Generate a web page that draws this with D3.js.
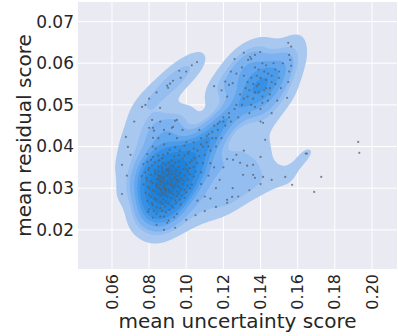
<!DOCTYPE html>
<html><head><meta charset="utf-8">
<script src="https://cdn.jsdelivr.net/npm/d3@7"></script>
<style>body{margin:0;background:#fff}</style>
</head><body>
<svg id="c" width="398" height="336"></svg>
<script>
// ---- data: [mean uncertainty score, mean residual score] ----
const coreScores = [
[0.082,0.0400],[0.088,0.0405],[0.094,0.0398],[0.099,0.0402],[0.104,0.0395],
[0.079,0.0382],[0.085,0.0378],[0.090,0.0384],[0.096,0.0379],[0.101,0.0383],[0.107,0.0377],
[0.081,0.0368],[0.087,0.0372],[0.092,0.0366],[0.098,0.0371],[0.103,0.0367],
[0.077,0.0358],[0.083,0.0362],[0.089,0.0356],[0.094,0.0361],[0.100,0.0357],[0.106,0.0360],
[0.080,0.0349],[0.085,0.0352],[0.091,0.0347],[0.096,0.0351],[0.102,0.0348],
[0.078,0.0338],[0.083,0.0342],[0.087,0.0339],[0.092,0.0341],[0.097,0.0337],[0.101,0.0340],[0.108,0.0338],
[0.076,0.0329],[0.081,0.0332],[0.086,0.0328],[0.090,0.0331],[0.094,0.0327],[0.099,0.0330],[0.104,0.0328],
[0.079,0.0319],[0.084,0.0322],[0.088,0.0318],[0.092,0.0321],[0.096,0.0317],[0.101,0.0320],
[0.077,0.0309],[0.082,0.0312],[0.086,0.0308],[0.090,0.0311],[0.094,0.0307],[0.098,0.0310],[0.103,0.0308],
[0.080,0.0299],[0.085,0.0302],[0.089,0.0298],[0.093,0.0301],[0.097,0.0297],[0.102,0.0300],
[0.078,0.0289],[0.083,0.0292],[0.087,0.0288],[0.091,0.0291],[0.096,0.0287],[0.100,0.0290],
[0.081,0.0279],[0.086,0.0282],[0.090,0.0278],[0.095,0.0281],[0.099,0.0277],
[0.079,0.0269],[0.084,0.0272],[0.089,0.0268],[0.094,0.0271],
[0.082,0.0259],[0.087,0.0262],[0.092,0.0258],[0.097,0.0261],
[0.080,0.0249],[0.086,0.0252],[0.091,0.0248],
[0.0794,0.0243],[0.084,0.0239],[0.089,0.0242],[0.095,0.0238],
[0.082,0.0229],[0.088,0.0232],[0.0897,0.0217],[0.100,0.0224],
[0.088,0.0335],[0.091,0.0325],[0.086,0.0315],[0.093,0.0305],[0.089,0.0295],[0.090,0.0345],
[0.087,0.0325],[0.094,0.0335],[0.084,0.0305],[0.092,0.0315],[0.089,0.0310],[0.091,0.0335],
[0.085,0.0330],[0.095,0.0320],[0.088,0.0300],[0.092,0.0290],
[0.0835,0.0395],[0.0910,0.0392],[0.0965,0.0390],[0.1015,0.0388],
[0.0820,0.0375],[0.0875,0.0380],[0.0935,0.0376],[0.0990,0.0378],[0.1045,0.0372],
[0.0790,0.0363],[0.0855,0.0366],[0.0905,0.0361],[0.0960,0.0364],[0.1020,0.0362],
[0.0815,0.0355],[0.0870,0.0350],[0.0930,0.0354],[0.0985,0.0346],[0.1040,0.0351],
[0.0795,0.0344],[0.0850,0.0340],[0.0895,0.0344],[0.0945,0.0342],[0.1000,0.0345],
[0.0785,0.0325],[0.0835,0.0335],[0.0880,0.0326],[0.0925,0.0333],[0.0975,0.0324],[0.1020,0.0333],
[0.0810,0.0316],[0.0860,0.0320],[0.0900,0.0316],[0.0945,0.0314],[0.0985,0.0318],
[0.0795,0.0304],[0.0840,0.0310],[0.0880,0.0306],[0.0920,0.0309],[0.0960,0.0303],[0.1005,0.0306],
[0.0820,0.0295],[0.0865,0.0294],[0.0905,0.0296],[0.0950,0.0292],[0.0990,0.0296],
[0.0800,0.0284],[0.0845,0.0286],[0.0885,0.0283],[0.0930,0.0285],[0.0975,0.0283],
[0.0830,0.0275],[0.0875,0.0273],[0.0920,0.0276],[0.0965,0.0273],
[0.0815,0.0264],[0.0860,0.0267],[0.0905,0.0263],[0.0945,0.0265],
[0.0840,0.0254],[0.0885,0.0256],[0.0930,0.0253],
[0.0825,0.0245],[0.0870,0.0246],[0.0860,0.0232],[0.0935,0.0230],
[0.0870,0.0345],[0.0895,0.0330],[0.0915,0.0310],[0.0875,0.0312],[0.0905,0.0340],[0.0860,0.0298],
[0.0935,0.0322],[0.0885,0.0290],[0.0850,0.0322],[0.0915,0.0355],[0.0875,0.0360],[0.0955,0.0330],
[0.0940,0.0205],[0.0840,0.0212],[0.0880,0.0200],[0.0905,0.0222]
];
const bridgeScores = [
[0.106,0.039],[0.109,0.040],[0.108,0.042],[0.111,0.041],[0.112,0.043],[0.114,0.042],
[0.115,0.045],[0.117,0.044],[0.118,0.046],[0.120,0.047],[0.121,0.045],[0.123,0.048],
[0.124,0.046],[0.126,0.049],[0.110,0.038],[0.113,0.039],[0.116,0.040],[0.104,0.041],
[0.107,0.044],[0.119,0.042],[0.085,0.042],[0.088,0.044],[0.091,0.043],[0.095,0.042],
[0.098,0.044],[0.086,0.046],[0.100,0.041],
[0.108,0.0405],[0.111,0.0425],[0.114,0.0435],[0.117,0.0455],[0.120,0.0460],[0.123,0.0470],
[0.112,0.0400],[0.116,0.0420]
];
const upperScores = [
[0.130,0.050],[0.133,0.052],[0.135,0.050],[0.137,0.053],[0.139,0.055],[0.141,0.052],
[0.143,0.056],[0.145,0.054],[0.138,0.057],[0.136,0.055],[0.142,0.058],[0.146,0.057],
[0.148,0.055],[0.144,0.051],[0.140,0.049],[0.134,0.048],[0.132,0.054],[0.137,0.059],
[0.141,0.060],[0.147,0.060],[0.150,0.058],[0.151,0.054],[0.149,0.051],[0.146,0.048],
[0.140,0.046],[0.128,0.047],[0.131,0.057],[0.135,0.061],[0.139,0.053],[0.143,0.054],
[0.1549,0.0649],[0.1565,0.0640],[0.1554,0.0620],[0.1560,0.0608],[0.1565,0.0594],
[0.1554,0.0580],[0.1549,0.0555],[0.1543,0.0517],[0.1414,0.0457],[0.1425,0.0416],
[0.1344,0.0615],[0.1370,0.0620],[0.1398,0.0627],
[0.131,0.0515],[0.134,0.0535],[0.136,0.0515],[0.138,0.0545],[0.140,0.0565],[0.142,0.0535],
[0.144,0.0575],[0.146,0.0555],[0.139,0.0585],[0.135,0.0565],[0.143,0.0595],[0.148,0.0585],
[0.150,0.0565],[0.145,0.0525],[0.141,0.0505],[0.137,0.0495],[0.133,0.0555],[0.152,0.0600],
[0.127,0.0500],[0.129,0.0525],
[0.121,0.0556],[0.123,0.0548],[0.125,0.0552],[0.127,0.0575],[0.130,0.0590],
[0.124,0.0580],[0.115,0.0545],[0.119,0.0535],[0.122,0.0520],
[0.126,0.0610],[0.131,0.0625],[0.1333,0.0608]
];
const hookScores = [
[0.0675,0.0423],[0.0686,0.0399],[0.0654,0.0286],[0.0654,0.0356],[0.0762,0.0495],
[0.0800,0.0515],[0.0859,0.0493],[0.0816,0.0464],[0.0821,0.0445],[0.0800,0.0445],
[0.0826,0.0438],[0.0940,0.0462],[0.0929,0.0447],[0.0821,0.0421],[0.0962,0.0582],
[0.0929,0.0558],[0.0913,0.0551],[0.0897,0.0546],[0.0902,0.0541],[0.1058,0.0603],
[0.0923,0.0445],[0.0950,0.0464],
[0.100,0.0580],[0.097,0.0565],[0.084,0.0530],[0.078,0.0500],[0.072,0.0460],[0.103,0.0595],
[0.070,0.0380],[0.068,0.0330]
];
const tailScores = [
[0.1252,0.0368],[0.1290,0.0361],[0.1328,0.0354],[0.1360,0.0356],[0.1306,0.0332],
[0.1370,0.0325],[0.1533,0.0327],[0.1570,0.0308],[0.1360,0.0332],[0.1414,0.0327],
[0.108,0.031],[0.112,0.033],[0.110,0.028],[0.115,0.035],[0.118,0.032],[0.113,0.036],
[0.120,0.035],[0.106,0.027],[0.116,0.030],[0.122,0.037],[0.105,0.034],[0.109,0.036],
[0.127,0.038],[0.131,0.039],[0.140,0.0375],
[0.110,0.0245],[0.116,0.0255],[0.122,0.0265],[0.128,0.0280],[0.134,0.0295],[0.140,0.0310],
[0.146,0.0320],[0.105,0.0235],[0.113,0.0275],[0.125,0.0300],[0.1220,0.0272],[0.1247,0.0279]
];
const outlierScores = [
[0.1643,0.0383],[0.1650,0.0383],[0.1926,0.0411],[0.1932,0.0385],[0.1727,0.0327],[0.1689,0.0291]
];
const xTicks = [0.06,0.08,0.10,0.12,0.14,0.16,0.18,0.20];
const yTicks = [0.02,0.03,0.04,0.05,0.06,0.07];
const xLimits = [0.0417, 0.2135];
const yLimits = [0.0106, 0.0747];
const isoProps = d3.range(10).map(i => 0.05 + i * 0.95 / 9);
const bandColors = ["#a9c8f0","#94bdf0","#7cb2ef","#62a6ed","#4a9bea","#3590e6","#2788e0","#1f82da","#1a7dd4"];

// ---- layout ----
const svg = d3.select("#c");
const L = 78, R = 397, T = 2, B = 269;
const x = d3.scaleLinear().domain(xLimits).range([L, R]);
const y = d3.scaleLinear().domain(yLimits).range([B, T]);
const font = "DejaVu Sans";
const ink = "#262626";

svg.append("rect").attr("x", L).attr("y", T).attr("width", R - L).attr("height", B - T).attr("fill", "#eaeaf2");
const grid = svg.append("g").attr("stroke", "#fff").attr("stroke-width", 1);
grid.selectAll("line.v").data(xTicks).join("line").attr("class","v")
  .attr("x1", d => x(d)).attr("x2", d => x(d)).attr("y1", T).attr("y2", B);
grid.selectAll("line.h").data(yTicks).join("line").attr("class","h")
  .attr("y1", d => y(d)).attr("y2", d => y(d)).attr("x1", L).attr("x2", R);

// ---- KDE (scipy gaussian_kde style, Scott factor) ----
const pts = [].concat(coreScores, bridgeScores, upperScores, hookScores, tailScores, outlierScores);
const n = pts.length;
const mx = d3.mean(pts, d => d[0]), my = d3.mean(pts, d => d[1]);
let sxx = 0, syy = 0, sxy = 0;
pts.forEach(([a, b]) => { sxx += (a - mx) ** 2; syy += (b - my) ** 2; sxy += (a - mx) * (b - my); });
sxx /= n - 1; syy /= n - 1; sxy /= n - 1;
const bwAdjust = 0.74;
const fac = Math.pow(n, -1 / 6) * bwAdjust;
const cxx = sxx * fac * fac, cyy = syy * fac * fac, cxy = sxy * fac * fac;
const det = cxx * cyy - cxy * cxy;
const ixx = cyy / det, iyy = cxx / det, ixy = -cxy / det;
const cell = 2;
const nx = Math.ceil((R - L) / cell), ny = Math.ceil((B - T) / cell);
const vals = new Float64Array(nx * ny);
for (let j = 0; j < ny; j++) {
  const yv = y.invert(T + (j + 0.5) * cell);
  for (let i = 0; i < nx; i++) {
    const xv = x.invert(L + (i + 0.5) * cell);
    let s = 0;
    for (let k = 0; k < n; k++) {
      const dx = xv - pts[k][0], dy = yv - pts[k][1];
      s += Math.exp(-0.5 * (ixx * dx * dx + 2 * ixy * dx * dy + iyy * dy * dy));
    }
    vals[j * nx + i] = s;
  }
}
const sorted = Array.from(vals).sort((a, b) => b - a);
const total = d3.sum(sorted);
const cum = []; let acc = 0;
sorted.forEach(v => { acc += v; cum.push(acc / total); });
const levels = isoProps.map(p => {
  const idx = d3.bisectLeft(cum, 1 - p);
  return sorted[Math.min(idx, sorted.length - 1)];
});
const contours = d3.contours().size([nx, ny]).smooth(true).thresholds(levels.slice(0, 9))(vals);
const toPx = d3.geoTransform({ point(px, py) { this.stream.point(L + px * cell, T + py * cell); } });
const path = d3.geoPath(toPx);
svg.append("g").selectAll("path").data(contours).join("path")
  .attr("d", path).attr("fill", (d, i) => bandColors[i]);

// ---- points ----
svg.append("g").selectAll("circle").data(pts).join("circle")
  .attr("cx", d => x(d[0])).attr("cy", d => y(d[1])).attr("r", 1.1)
  .attr("fill", "#56606e").attr("fill-opacity", 0.75);

// ---- ticks & labels ----
svg.append("g").selectAll("text").data(yTicks).join("text")
  .attr("x", L - 4).attr("y", d => y(d)).attr("dy", "0.35em")
  .attr("text-anchor", "end").attr("font-family", font).attr("font-size", 17).attr("fill", ink)
  .text(d => d.toFixed(2));
svg.append("g").selectAll("text").data(xTicks).join("text")
  .attr("transform", d => `translate(${x(d)},${B + 5}) rotate(-90)`).attr("dy", "0.35em")
  .attr("text-anchor", "end").attr("font-family", font).attr("font-size", 16).attr("fill", ink)
  .text(d => d.toFixed(2));
svg.append("text").attr("x", (L + R) / 2).attr("y", 328).attr("text-anchor", "middle")
  .attr("font-family", font).attr("font-size", 20).attr("fill", ink).text("mean uncertainty score");
svg.append("text").attr("transform", `translate(31,${(T + B) / 2}) rotate(-90)`).attr("text-anchor", "middle")
  .attr("font-family", font).attr("font-size", 20).attr("fill", ink).text("mean residual score");
</script>
</body></html>
